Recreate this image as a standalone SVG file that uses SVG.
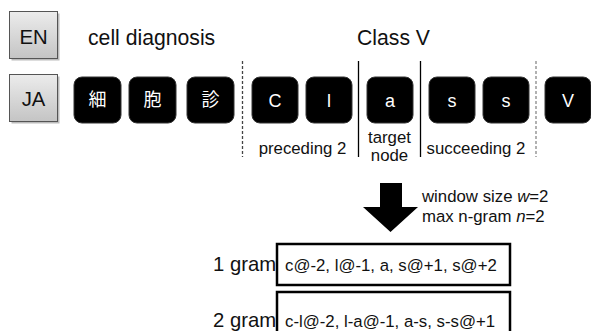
<svg xmlns="http://www.w3.org/2000/svg" width="591" height="331" viewBox="0 0 591 331">
<defs>
<linearGradient id="lg" x1="0" y1="0" x2="0" y2="1">
<stop offset="0" stop-color="#ececec"/>
<stop offset="1" stop-color="#c4c4c4"/>
</linearGradient>
</defs>
<style>
text{font-family:"Liberation Sans","Noto Sans CJK JP",Arial,sans-serif;fill:#111}
.lang{fill:url(#lg);stroke:#555;stroke-width:1}
.shadow{fill:#bbb}
.tile{fill:#000;stroke:#333;stroke-width:1}
.tt{fill:#fff;font-size:18px;text-anchor:middle}
.big{font-size:20.3px}
.head{font-size:21.2px}
.lab{font-size:16.8px}
.mid{text-anchor:middle}
.vline{stroke:#000;stroke-width:1.3}
.dash1{stroke:#444;stroke-width:1.3;stroke-dasharray:3 2}
.dash2{stroke:#888;stroke-width:1.3;stroke-dasharray:3 2}
.box{fill:#fff;stroke:#000;stroke-width:2.5}
</style>
<g id="en">
<rect class="shadow" x="11.5" y="13.5" width="48" height="47"/>
<rect class="lang" x="9.5" y="11.5" width="48" height="47"/>
<text class="big mid" x="33.5" y="44">EN</text>
</g>
<g id="ja">
<rect class="shadow" x="11.5" y="76.5" width="48" height="47"/>
<rect class="lang" x="9.5" y="74.5" width="48" height="47"/>
<text class="big mid" x="33.5" y="106">JA</text>
</g>
<g id="en-cell"><text class="head" x="88" y="45">cell diagnosis</text></g>
<g id="en-class"><text class="head" x="357" y="45">Class V</text></g>
<g id="t1"><rect class="tile" x="74" y="77" width="47" height="46" rx="8"/><text class="tt" x="97.5" y="106">細</text></g>
<g id="t2"><rect class="tile" x="129" y="77" width="47" height="46" rx="8"/><text class="tt" x="152.5" y="106">胞</text></g>
<g id="t3"><rect class="tile" x="187" y="77" width="47" height="46" rx="8"/><text class="tt" x="210.5" y="106">診</text></g>
<g id="t4"><rect class="tile" x="252" y="77" width="46" height="46" rx="8"/><text class="tt" x="275" y="106.5">C</text></g>
<g id="t5"><rect class="tile" x="306" y="77" width="46" height="46" rx="8"/><text class="tt" x="329" y="106.5">l</text></g>
<g id="t6"><rect class="tile" x="367" y="77" width="46" height="46" rx="8"/><text class="tt" x="390" y="106.5">a</text></g>
<g id="t7"><rect class="tile" x="429" y="77" width="46" height="46" rx="8"/><text class="tt" x="452" y="106.5">s</text></g>
<g id="t8"><rect class="tile" x="483" y="77" width="46" height="46" rx="8"/><text class="tt" x="506" y="106.5">s</text></g>
<g id="t9"><rect class="tile" x="545" y="77" width="46" height="46" rx="8"/><text class="tt" x="568" y="106.5">V</text></g>
<g id="connectors">
<line class="dash1" x1="242.5" y1="61" x2="242.5" y2="157"/>
<line class="vline" x1="358.5" y1="61" x2="358.5" y2="157"/>
<line class="vline" x1="420.5" y1="61" x2="420.5" y2="157"/>
<line class="dash2" x1="536" y1="61" x2="536" y2="157"/>
<polygon points="380,183 402,183 402,207 418,207 390.5,232 363,207 380,207" fill="#000"/>
</g>
<g id="labels">
<text class="lab mid" x="302.5" y="154">preceding 2</text>
<text class="lab mid" x="389.5" y="143">target</text>
<text class="lab mid" x="389.5" y="161">node</text>
<text class="lab mid" x="476" y="154">succeeding 2</text>
<text class="lab" x="422" y="202">window size <tspan font-style="italic">w</tspan>=2</text>
<text class="lab" x="422" y="222">max n-gram <tspan font-style="italic">n</tspan>=2</text>
</g>
<g id="gram1">
<text class="big" x="213" y="271">1 gram</text>
<rect class="box" x="277" y="244" width="233" height="41"/>
<text class="lab" x="285" y="271">c@-2, l@-1, a, s@+1, s@+2</text>
</g>
<g id="gram2">
<text class="big" x="213" y="327">2 gram</text>
<rect class="box" x="277" y="292" width="233" height="50"/>
<text class="lab" x="285" y="327">c-l@-2, l-a@-1, a-s, s-s@+1</text>
</g>
</svg>
